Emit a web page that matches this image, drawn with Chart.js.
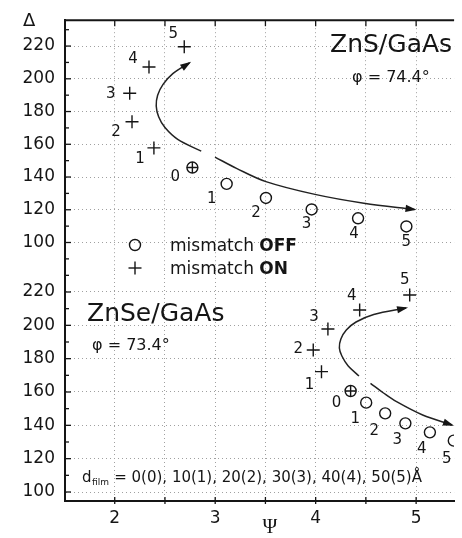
<!DOCTYPE html>
<html>
<head>
<meta charset="utf-8">
<script src="https://cdn.jsdelivr.net/npm/chart.js@4.4.1/dist/chart.umd.min.js"></script>
<style>
    html, body { margin: 0; padding: 0; background: #fff; }
    #wrap { position: relative; width: 462px; height: 538px; overflow: hidden; }
    #top { position: absolute; left: 0; top: 0; z-index: 2; }
    #bot { position: absolute; left: 0; top: 240px; z-index: 1; }
</style>
</head>
<body>
<div id="wrap">
    <canvas id="bot" width="462" height="298"></canvas>
    <canvas id="top" width="462" height="292"></canvas>
</div>
<script>
// Axes
const PSI_MIN = 1.505, PSI_MAX = 5.378;
const psiGrid = [2, 2.5, 3, 3.5, 4, 4.5, 5];
const psiLabels = [2, 3, 4, 5];
const deltaTicks = [100, 120, 140, 160, 180, 200, 220];
const deltaMinor = [90, 110, 130, 150, 170, 190, 210, 230];
const pointNames = ['0', '1', '2', '3', '4', '5'];

// ZnS/GaAs, phi = 74.4
const znsOffPsi   = [2.773, 3.114, 3.505, 3.960, 4.422, 4.903];
const znsOffDelta = [145.8, 135.8, 127.2, 120.2, 114.8, 109.8];
const znsOnPsi    = [2.773, 2.390, 2.172, 2.149, 2.341, 2.692];
const znsOnDelta  = [145.8, 157.8, 173.8, 191.2, 207.2, 219.6];
const znsOnCurvePsi    = [2.861, 2.627, 2.500, 2.437, 2.413, 2.427, 2.481, 2.578, 2.744];
const znsOnCurveDelta  = [155.8, 163.0, 170.2, 176.8, 183.4, 190.0, 196.6, 203.2, 209.8];
const znsOffCurvePsi   = [2.998, 3.212, 3.505, 3.993, 4.480, 4.984];
const znsOffCurveDelta = [152.2, 145.3, 137.2, 129.4, 124.0, 120.2];

// ZnSe/GaAs, phi = 73.4
const znseOffPsi   = [4.348, 4.503, 4.692, 4.893, 5.137, 5.375];
const znseOffDelta = [160.6, 153.6, 147.2, 141.2, 135.8, 130.8];
const znseOnPsi    = [4.348, 4.058, 3.976, 4.122, 4.438, 4.936];
const znseOnDelta  = [160.6, 172.2, 185.2, 197.8, 209.2, 218.2];
const znseOnCurvePsi    = [4.431, 4.324, 4.261, 4.236, 4.251, 4.305, 4.402, 4.578, 4.900];
const znseOnCurveDelta  = [169.6, 175.6, 181.6, 186.4, 191.8, 197.2, 202.0, 206.5, 210.4];
const znseOffCurvePsi   = [4.546, 4.675, 4.805, 5.065, 5.358];
const znseOffCurveDelta = [165.2, 159.4, 154.2, 146.2, 140.2];

const INK = '#151515';
const GRID = '#a0a0a0';
const SANS = '"DejaVu Sans", sans-serif';

const pts = (xs, ys) => xs.map((x, i) => ({ x, y: ys[i] }));

function line(ctx, x1, y1, x2, y2) {
    ctx.beginPath();
    ctx.moveTo(x1, y1);
    ctx.lineTo(x2, y2);
    ctx.stroke();
}

// draws ticks, frame, arrowheads, point numbers and notes
function panelPlugin(p) {
    return {
        id: 'panel_' + p.id,
        afterDatasetsDraw(chart) {
            const { ctx, chartArea: a, scales: { x, y } } = chart;
            const oy = p.offsetY;
            ctx.save();
            ctx.strokeStyle = INK;
            ctx.fillStyle = INK;

            // inward ticks on the left axis
            ctx.lineWidth = 1.3;
            deltaTicks.forEach(v => {
                const py = y.getPixelForValue(v);
                if (py >= a.top && py <= a.bottom) line(ctx, a.left, py, a.left + 6, py);
            });
            deltaMinor.forEach(v => {
                const py = y.getPixelForValue(v);
                if (py >= a.top && py <= a.bottom) line(ctx, a.left, py, a.left + 4, py);
            });

            if (p.frameTop) {
                ctx.lineWidth = 2;
                line(ctx, a.left - 1, a.top, a.right, a.top);
                ctx.lineWidth = 1.3;
                psiGrid.forEach(v => {
                    const px = x.getPixelForValue(v);
                    line(ctx, px, a.top, px, a.top + 6);
                });
            }
            if (p.axisBottom) {
                ctx.lineWidth = 1.3;
                psiGrid.forEach(v => {
                    const px = x.getPixelForValue(v);
                    line(ctx, px, a.bottom - 4, px, a.bottom + 3);
                });
            }

            // arrowheads at the end of the two curves
            [2, 3].forEach(di => {
                const el = chart.getDatasetMeta(di).data;
                const last = el[el.length - 1];
                let bx = last.cp1x, by = last.cp1y;
                if (bx === undefined || Math.hypot(last.x - bx, last.y - by) < 1) {
                    bx = el[el.length - 2].x; by = el[el.length - 2].y;
                }
                const ang = Math.atan2(last.y - by, last.x - bx);
                ctx.save();
                ctx.translate(last.x, last.y);
                ctx.rotate(ang);
                ctx.beginPath();
                ctx.moveTo(2, 0);
                ctx.lineTo(-9, -3.6);
                ctx.lineTo(-9, 3.6);
                ctx.closePath();
                ctx.fill();
                ctx.restore();
            });

            // point numbers
            ctx.font = '15px ' + SANS;
            ctx.textAlign = 'center';
            ctx.textBaseline = 'middle';
            const numbers = (di, offs) => {
                chart.getDatasetMeta(di).data.forEach((el, i) => {
                    if (!offs[i]) return;
                    ctx.fillText(pointNames[i], el.x + offs[i][0], el.y + offs[i][1]);
                });
            };
            numbers(0, p.offLabels);
            numbers(1, p.onLabels);

            // notes
            ctx.textAlign = 'left';
            ctx.textBaseline = 'alphabetic';
            ctx.font = '25px ' + SANS;
            ctx.fillText(p.title, p.titlePos[0], p.titlePos[1] - oy);
            ctx.font = '16px ' + SANS;
            ctx.fillText(p.phi, p.phiPos[0], p.phiPos[1] - oy);

            if (p.legend) {
                ctx.lineWidth = 1.4;
                ctx.beginPath();
                ctx.arc(135, 245, 5.5, 0, Math.PI * 2);
                ctx.stroke();
                line(ctx, 128.5, 268, 141.5, 268);
                line(ctx, 135, 261.5, 135, 274.5);
                ctx.font = '17px ' + SANS;
                ctx.fillText('mismatch ', 170, 251);
                const w = ctx.measureText('mismatch ').width;
                ctx.font = 'bold 17px ' + SANS;
                ctx.fillText('OFF', 170 + w, 251);
                ctx.font = '17px ' + SANS;
                ctx.fillText('mismatch ', 170, 273.5);
                ctx.font = 'bold 17px ' + SANS;
                ctx.fillText('ON', 170 + w, 273.5);
                ctx.font = '18px ' + SANS;
                ctx.fillText('\u0394', 23, 26);
            }
            if (p.footnote) {
                const by = 482 - oy;
                ctx.font = '15px ' + SANS;
                ctx.fillText('d', 82, by);
                let xx = 82 + ctx.measureText('d').width;
                ctx.font = '9px ' + SANS;
                ctx.fillText('film', xx + 0.5, by + 3);
                xx += ctx.measureText('film').width + 1;
                ctx.font = '15px ' + SANS;
                ctx.fillText(' = 0(0), 10(1), 20(2), 30(3), 40(4), 50(5)\u00c5', xx, by);
                ctx.font = '20px "Liberation Serif", serif';
                ctx.textAlign = 'center';
                ctx.fillText('\u03a8', 270, 533 - oy);
            }
            ctx.restore();
        }
    };
}

function makePanel(p) {
    const datasets = [
        {
            data: pts(p.offPsi, p.offDelta),
            pointStyle: 'circle', pointRadius: 5.5, pointBorderWidth: 1.4,
            pointBorderColor: INK, pointBackgroundColor: 'rgba(0,0,0,0)'
        },
        {
            data: pts(p.onPsi, p.onDelta),
            pointStyle: 'cross', pointRadius: [5.5, 6.5, 6.5, 6.5, 6.5, 6.5], pointBorderWidth: 1.4,
            pointBorderColor: INK
        },
        {
            data: pts(p.onCurvePsi, p.onCurveDelta),
            showLine: true, tension: 0.35, pointRadius: 0, borderColor: '#222', borderWidth: 1.5
        },
        {
            data: pts(p.offCurvePsi, p.offCurveDelta),
            showLine: true, tension: 0.35, pointRadius: 0, borderColor: '#222', borderWidth: 1.5
        }
    ];

    return new Chart(document.getElementById(p.canvas), {
        type: 'scatter',
        data: { datasets },
        options: {
            responsive: false,
            animation: false,
            events: [],
            layout: { padding: { top: p.padTop, bottom: p.padBottom, left: 0, right: 0 } },
            plugins: { legend: { display: false }, tooltip: { enabled: false } },
            scales: {
                x: {
                    type: 'linear', min: PSI_MIN, max: PSI_MAX,
                    afterBuildTicks: s => { s.ticks = psiGrid.map(v => ({ value: v })); },
                    afterFit: s => { s.height = p.axisBottom ? 37 : 0; },
                    ticks: {
                        display: p.axisBottom, autoSkip: false, maxRotation: 0, padding: 7,
                        color: INK, font: { family: SANS, size: 17 },
                        callback: v => psiLabels.includes(v) ? String(v) : ''
                    },
                    grid: { color: GRID, lineWidth: 1, drawTicks: false },
                    border: { display: p.axisBottom, color: INK, width: 2, dash: [1, 3] }
                },
                y: {
                    type: 'linear', min: p.yMin, max: p.yMax,
                    afterBuildTicks: s => { s.ticks = deltaTicks.map(v => ({ value: v })); },
                    afterFit: s => { s.width = 65; },
                    ticks: {
                        padding: 10, color: INK, font: { family: SANS, size: 17 }
                    },
                    grid: { color: GRID, lineWidth: 1, drawTicks: false },
                    border: { display: true, color: INK, width: 2, dash: [1, 3] }
                }
            }
        },
        plugins: [panelPlugin(p)]
    });
}

makePanel({
    id: 'bot', canvas: 'bot', offsetY: 240,
    yMin: 94.6, yMax: 233.2, padTop: 30, padBottom: 0, axisBottom: true, frameTop: false,
    offPsi: znseOffPsi, offDelta: znseOffDelta, onPsi: znseOnPsi, onDelta: znseOnDelta,
    onCurvePsi: znseOnCurvePsi, onCurveDelta: znseOnCurveDelta,
    offCurvePsi: znseOffCurvePsi, offCurveDelta: znseOffCurveDelta,
    onLabels: [[-14, 12], [-12, 13], [-15, -1], [-14, -12], [-8, -14], [-5, -15]],
    offLabels: [null, [-11, 16], [-11, 18], [-8, 17], [-8, 17], [-7, 18]],
    title: 'ZnSe/GaAs', titlePos: [87, 321], phi: '\u03c6 = 73.4\u00b0', phiPos: [92, 350],
    footnote: true
});

makePanel({
    id: 'top', canvas: 'top', offsetY: 0,
    yMin: 83.2, yMax: 235.8, padTop: 16, padBottom: 22, axisBottom: false, frameTop: true,
    offPsi: znsOffPsi, offDelta: znsOffDelta, onPsi: znsOnPsi, onDelta: znsOnDelta,
    onCurvePsi: znsOnCurvePsi, onCurveDelta: znsOnCurveDelta,
    offCurvePsi: znsOffCurvePsi, offCurveDelta: znsOffCurveDelta,
    onLabels: [[-17, 10], [-14, 11], [-16, 10], [-19, 1], [-16, -8], [-11, -13]],
    offLabels: [null, [-15, 15], [-10, 15], [-5, 15], [-4, 16], [0, 16]],
    title: 'ZnS/GaAs', titlePos: [330, 52], phi: '\u03c6 = 74.4\u00b0', phiPos: [352, 82],
    legend: true
});
</script>
</body>
</html>
